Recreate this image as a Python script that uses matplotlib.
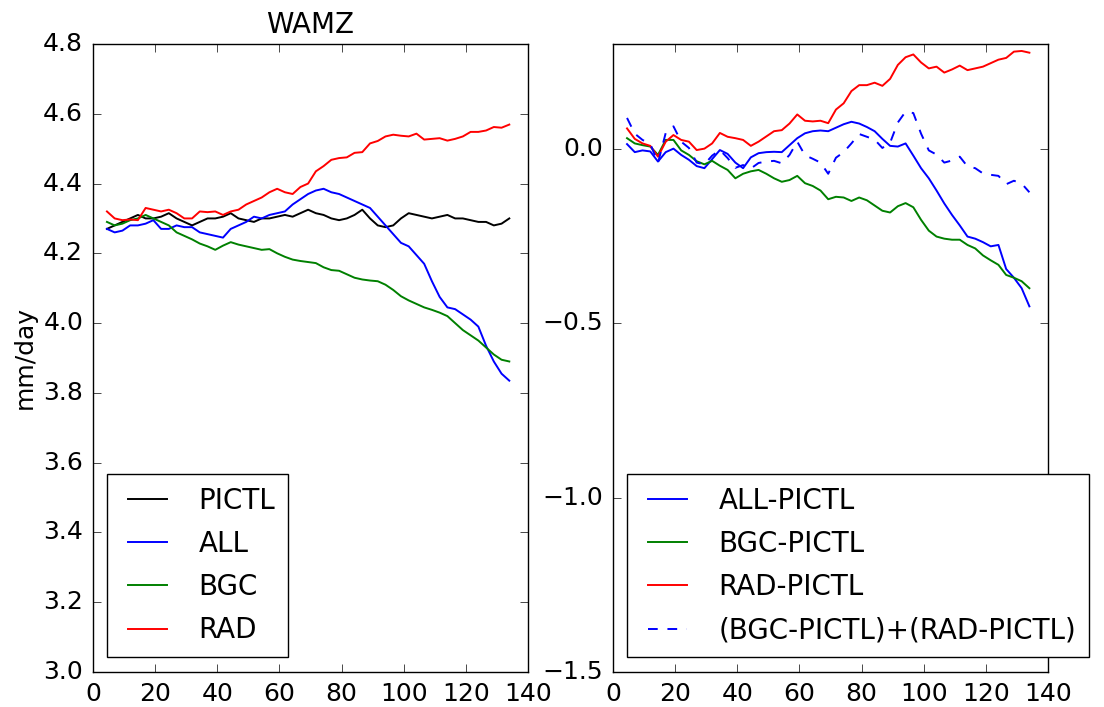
import numpy as np
import matplotlib
matplotlib.use("Agg")
import matplotlib.pyplot as plt

# years (running-mean centre), same grid for every series
years = np.linspace(4.5, 134, 53)

# left panel: WAMZ rainfall, mm/day
pictl = [4.27, 4.28, 4.29, 4.30, 4.31, 4.30, 4.30, 4.305, 4.315, 4.30,
         4.29, 4.28, 4.29, 4.30, 4.30, 4.305, 4.315, 4.30, 4.295, 4.29,
         4.30, 4.30, 4.305, 4.31, 4.305, 4.315, 4.325, 4.315, 4.31, 4.30,
         4.295, 4.30, 4.31, 4.325, 4.30, 4.28, 4.275, 4.28, 4.30, 4.315,
         4.31, 4.305, 4.30, 4.305, 4.31, 4.30, 4.30, 4.295, 4.29, 4.29,
         4.28, 4.285, 4.30]
all_ = [4.27, 4.26, 4.265, 4.28, 4.28, 4.285, 4.295, 4.27, 4.27, 4.28,
        4.275, 4.275, 4.26, 4.255, 4.25, 4.245, 4.27, 4.28, 4.29, 4.305,
        4.30, 4.31, 4.315, 4.32, 4.34, 4.355, 4.37, 4.38, 4.385, 4.375,
        4.37, 4.36, 4.35, 4.34, 4.33, 4.305, 4.28, 4.255, 4.23, 4.22,
        4.195, 4.17, 4.12, 4.075, 4.045, 4.04, 4.025, 4.01, 3.99, 3.935,
        3.89, 3.855, 3.835]
bgc = [4.29, 4.28, 4.285, 4.295, 4.30, 4.31, 4.30, 4.29, 4.28, 4.26,
       4.25, 4.24, 4.228, 4.22, 4.21, 4.222, 4.232, 4.225, 4.22, 4.215,
       4.21, 4.212, 4.20, 4.19, 4.182, 4.178, 4.175, 4.172, 4.16, 4.152,
       4.15, 4.14, 4.13, 4.125, 4.122, 4.12, 4.11, 4.095, 4.077, 4.065,
       4.055, 4.045, 4.038, 4.03, 4.02, 4.0, 3.98, 3.965, 3.95, 3.93,
       3.91, 3.895, 3.89]
rad = [4.32, 4.30, 4.295, 4.297, 4.295, 4.33, 4.325, 4.32, 4.325, 4.315,
       4.30, 4.30, 4.32, 4.318, 4.32, 4.31, 4.32, 4.325, 4.34, 4.35,
       4.36, 4.375, 4.385, 4.375, 4.37, 4.39, 4.40, 4.435, 4.45, 4.468,
       4.473, 4.475, 4.488, 4.49, 4.515, 4.522, 4.535, 4.54, 4.537, 4.535,
       4.543, 4.526, 4.528, 4.53, 4.523, 4.528, 4.535, 4.548, 4.548, 4.552,
       4.562, 4.56, 4.569]

# right panel: differences from PICTL
all_d = [0.013, -0.01, -0.005, -0.008, -0.037, -0.01, 0.0, -0.018, -0.032, -0.05,
         -0.056, -0.03, -0.004, -0.015, -0.04, -0.056, -0.025, -0.013, -0.01, -0.009,
         -0.01, 0.01, 0.03, 0.044, 0.05, 0.052, 0.05, 0.06, 0.07, 0.077,
         0.072, 0.062, 0.05, 0.028, 0.008, 0.006, 0.015, -0.02, -0.056, -0.085,
         -0.12, -0.157, -0.19, -0.22, -0.252, -0.258, -0.268, -0.28, -0.276, -0.345,
         -0.37, -0.4, -0.452]
bgc_d = [0.03, 0.015, 0.01, 0.006, -0.018, 0.025, 0.025, -0.005, -0.018, -0.036,
         -0.045, -0.035, -0.049, -0.061, -0.085, -0.072, -0.065, -0.061, -0.072, -0.085,
         -0.095, -0.09, -0.078, -0.099, -0.107, -0.12, -0.145, -0.138, -0.14, -0.15,
         -0.14, -0.148, -0.163, -0.178, -0.183, -0.165, -0.156, -0.168, -0.204, -0.235,
         -0.252, -0.258, -0.261, -0.261, -0.276, -0.286, -0.306, -0.32, -0.333, -0.362,
         -0.37, -0.38, -0.40]
rad_d = [0.058, 0.028, 0.015, 0.008, -0.023, 0.02, 0.039, 0.025, 0.02, -0.004,
         0.0, 0.015, 0.045, 0.034, 0.03, 0.025, 0.008, 0.02, 0.035, 0.05,
         0.053, 0.072, 0.098, 0.08, 0.078, 0.08, 0.073, 0.112, 0.13, 0.165,
         0.182, 0.182, 0.189, 0.18, 0.2, 0.24, 0.262, 0.27, 0.247, 0.23,
         0.235, 0.218, 0.227, 0.238, 0.225, 0.23, 0.235, 0.245, 0.255, 0.26,
         0.278, 0.28, 0.275]
sum_d = np.array(bgc_d) + np.array(rad_d)

plt.style.use("classic")
plt.rcParams["figure.facecolor"] = "white"
plt.rcParams["savefig.facecolor"] = "white"

fig = plt.figure(figsize=(11.04, 7.07), dpi=100)
ax1 = fig.add_axes([0.0842, 0.0495, 0.394, 0.8883])
ax2 = fig.add_axes([0.5553, 0.0495, 0.394, 0.8883])

lw = 1.4
ax1.plot(years, pictl, color="k", lw=lw, label="PICTL")
ax1.plot(years, all_, color="b", lw=lw, label="ALL")
ax1.plot(years, bgc, color="g", lw=lw, label="BGC")
ax1.plot(years, rad, color="r", lw=lw, label="RAD")
ax1.set_xlim(0, 140)
ax1.set_ylim(3.0, 4.8)
ax1.set_yticks(np.arange(3.0, 4.81, 0.2))
ax1.set_title("WAMZ", fontsize=20, pad=8)
ax1.set_ylabel("mm/day", fontsize=18)

ax2.plot(years, all_d, color="b", lw=lw, label="ALL-PICTL")
ax2.plot(years, bgc_d, color="g", lw=lw, label="BGC-PICTL")
ax2.plot(years, rad_d, color="r", lw=lw, label="RAD-PICTL")
ax2.plot(years, sum_d, color="b", lw=lw, dashes=(7, 7),
         label="(BGC-PICTL)+(RAD-PICTL)")
ax2.set_xlim(0, 140)
ax2.set_ylim(-1.5, 0.3)
ax2.set_yticks([-1.5, -1.0, -0.5, 0.0])

for ax in (ax1, ax2):
    ax.set_xticks(np.arange(0, 141, 20))
    ax.tick_params(labelsize=18, length=6, pad=7, direction="in",
                   top=True, right=True)
    leg = ax.legend(loc="lower left", bbox_to_anchor=(0.032, 0.024),
                    borderaxespad=0, fontsize=20, handlelength=2.0,
                    handletextpad=0.85, labelspacing=0.55, borderpad=0.45,
                    frameon=True, fancybox=False, numpoints=2)
    leg.get_frame().set_edgecolor("k")
    leg.get_frame().set_linewidth(1.0)

fig.savefig("out.png", dpi=100)
